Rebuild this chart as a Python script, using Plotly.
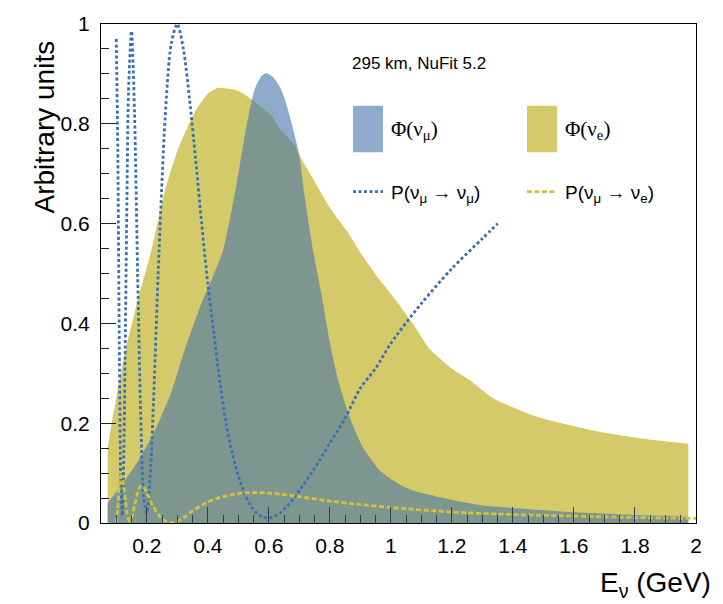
import plotly.graph_objects as go

# ---------------- data ----------------
# Phi(nu_mu) flux (blue fill)
e_phi_mu = [0.072, 0.10, 0.128, 0.172, 0.226, 0.281, 0.325, 0.379, 0.412, 0.45, 0.494,
            0.527, 0.554, 0.575, 0.592, 0.615, 0.636, 0.652, 0.674, 0.70, 0.718, 0.745,
            0.773, 0.80, 0.826, 0.866, 0.909, 0.964, 1.02, 1.072, 1.18, 1.29, 1.40,
            1.587, 1.805, 1.975]
phi_mu = [0.04, 0.062, 0.085, 0.125, 0.184, 0.263, 0.348, 0.44, 0.487, 0.546, 0.678,
          0.796, 0.87, 0.895, 0.902, 0.893, 0.875, 0.85, 0.803, 0.737, 0.652, 0.546,
          0.456, 0.362, 0.289, 0.21, 0.151, 0.105, 0.08, 0.065, 0.049, 0.036, 0.03,
          0.022, 0.016, 0.0125]

# Phi(nu_e) flux (yellow fill)
e_phi_e = [0.072, 0.085, 0.10, 0.13, 0.172, 0.215, 0.259, 0.303, 0.357, 0.40, 0.434,
           0.47, 0.50, 0.543, 0.609, 0.636, 0.685, 0.70, 0.745, 0.80, 0.855, 0.91,
           0.964, 1.007, 1.072, 1.128, 1.20, 1.259, 1.335, 1.478, 1.674, 1.827, 1.975]
phi_e = [0.15, 0.2, 0.25, 0.345, 0.45, 0.546, 0.665, 0.75, 0.823, 0.86, 0.872,
         0.87, 0.866, 0.849, 0.816, 0.79, 0.757, 0.737, 0.69, 0.632, 0.586, 0.533,
         0.487, 0.454, 0.40, 0.348, 0.309, 0.286, 0.25, 0.213, 0.184, 0.169, 0.159]

# P(nu_mu -> nu_mu) (blue dotted)
e_pmm = [0.10, 0.105, 0.11, 0.115, 0.12, 0.125, 0.13, 0.135, 0.14, 0.15, 0.16, 0.17,
         0.18, 0.19, 0.20, 0.21, 0.22, 0.24, 0.26, 0.28, 0.30, 0.32, 0.34, 0.36, 0.38,
         0.40, 0.42, 0.44, 0.46, 0.48, 0.50, 0.52, 0.54, 0.56, 0.58, 0.60, 0.62, 0.64,
         0.66, 0.68, 0.70, 0.75, 0.80, 0.85, 0.90, 0.95, 1.0, 1.1, 1.2, 1.3, 1.35]
p_mumu = [0.97, 0.75, 0.36, 0.08, 0.015, 0.15, 0.39, 0.65, 0.86, 0.986, 0.82, 0.50,
          0.22, 0.05, 0.02, 0.08, 0.21, 0.54, 0.81, 0.96, 1.0, 0.95, 0.85, 0.73, 0.60,
          0.48, 0.38, 0.28, 0.20, 0.14, 0.095, 0.06, 0.035, 0.02, 0.012, 0.01, 0.014, 0.022,
          0.034, 0.048, 0.065, 0.11, 0.16, 0.21, 0.27, 0.31, 0.36, 0.44, 0.51, 0.57, 0.60]

# P(nu_mu -> nu_e) (yellow dashed)
e_pme = [0.10, 0.105, 0.11, 0.115, 0.12, 0.125, 0.13, 0.135, 0.14, 0.145, 0.15, 0.16,
         0.17, 0.18, 0.19, 0.20, 0.22, 0.24, 0.26, 0.28, 0.30, 0.32, 0.35, 0.40, 0.45,
         0.50, 0.55, 0.60, 0.65, 0.70, 0.80, 0.90, 1.0, 1.2, 1.4, 1.6, 1.8, 2.0]
p_mue = [0.0, 0.03, 0.075, 0.095, 0.09, 0.07, 0.045, 0.02, 0.007, 0.004, 0.01, 0.035,
         0.06, 0.074, 0.072, 0.06, 0.035, 0.015, 0.004, 0.0, 0.003, 0.01, 0.024, 0.042, 0.053,
         0.059, 0.061, 0.060, 0.057, 0.053, 0.044, 0.037, 0.031, 0.022, 0.017, 0.014, 0.011, 0.009]

x_ticks = [0.2, 0.4, 0.6, 0.8, 1.0, 1.2, 1.4, 1.6, 1.8, 2.0]
y_ticks = [0, 0.2, 0.4, 0.6, 0.8, 1.0]

# ---------------- style ----------------
YELLOW = "#d5ca6a"
BLUE_FILL = "rgba(67,115,168,0.6)"
BLUE_LINE = "#3a6fb0"
YELLOW_LINE = "#d6c23a"
BLUE_DASH = "3px,2.5px"
YELLOW_DASH = "5px,2.5px"
W, H = 723, 604
L, R, T, B = 101, 27, 17, 81
pw, ph = W - L - R, H - T - B


def px(xp):
    return (xp - L) / pw


def py(yp):
    return (H - B - yp) / ph


fig = go.Figure()
fig.add_trace(go.Scatter(x=e_phi_e, y=phi_e, mode="lines", fill="tozeroy",
                         fillcolor=YELLOW,
                         line=dict(width=0, color=YELLOW, shape="spline", smoothing=0.5),
                         showlegend=False, hoverinfo="skip"))
fig.add_trace(go.Scatter(x=e_phi_mu, y=phi_mu, mode="lines", fill="tozeroy",
                         fillcolor=BLUE_FILL,
                         line=dict(width=0, color=BLUE_FILL, shape="spline", smoothing=0.5),
                         showlegend=False, hoverinfo="skip"))
fig.add_trace(go.Scatter(x=e_pmm, y=p_mumu, mode="lines",
                         line=dict(color=BLUE_LINE, width=2.8, dash=BLUE_DASH,
                                   shape="spline", smoothing=0.8),
                         showlegend=False))
fig.add_trace(go.Scatter(x=e_pme, y=p_mue, mode="lines",
                         line=dict(color=YELLOW_LINE, width=2.8, dash=YELLOW_DASH,
                                   shape="spline", smoothing=0.8),
                         showlegend=False))

tickfont = dict(family="Liberation Sans, Arial, sans-serif", size=21, color="black")
fig.update_xaxes(range=[0.05, 2.0], tickvals=x_ticks, ticks="inside", ticklen=16,
                 tickwidth=1, tickcolor="#2e3f52", showline=True, linecolor="black",
                 linewidth=1, mirror=True, showgrid=False, zeroline=False,
                 tickfont=tickfont, ticklabelstandoff=4,
                 minor=dict(dtick=0.05, tick0=0, ticks="inside", ticklen=8,
                            tickcolor="#2e3f52", showgrid=False))
fig.update_yaxes(range=[0, 1.0], tickvals=y_ticks, ticks="inside", ticklen=15,
                 tickwidth=1, tickcolor="#222", showline=True, linecolor="black",
                 linewidth=1, mirror=True, showgrid=False, zeroline=False,
                 tickfont=tickfont, ticklabelstandoff=6,
                 minor=dict(dtick=0.05, tick0=0, ticks="inside", ticklen=8,
                            tickcolor="#222", showgrid=False))

ann = []
ann.append(dict(text="Arbitrary units", x=px(45), y=py(122), xref="paper", yref="paper",
                textangle=-90, showarrow=False, xanchor="center", yanchor="middle",
                font=dict(family="Liberation Sans, Arial, sans-serif", size=28, color="black")))
ann.append(dict(text="E<sub>ν</sub> (GeV)", x=px(713), y=py(585), xref="paper", yref="paper",
                showarrow=False, xanchor="right", yanchor="middle",
                font=dict(family="Liberation Sans, Arial, sans-serif", size=28, color="black")))
ann.append(dict(text="295 km, NuFit 5.2", x=px(350), y=py(57), xref="paper", yref="paper",
                showarrow=False, xanchor="left", yanchor="middle",
                font=dict(family="Liberation Sans, Arial, sans-serif", size=17, color="black")))
serif = dict(family="Liberation Serif, Times New Roman, serif", size=21, color="black")
sans = dict(family="Liberation Sans, Arial, sans-serif", size=19, color="black")
ann.append(dict(text="Φ(ν<sub>μ</sub>)", x=px(389), y=py(124), xref="paper", yref="paper",
                showarrow=False, xanchor="left", yanchor="middle", font=serif))
ann.append(dict(text="Φ(ν<sub>e</sub>)", x=px(563), y=py(124), xref="paper", yref="paper",
                showarrow=False, xanchor="left", yanchor="middle", font=serif))
ann.append(dict(text="P(ν<sub>μ</sub> → ν<sub>μ</sub>)", x=px(389), y=py(189), xref="paper",
                yref="paper", showarrow=False, xanchor="left", yanchor="middle", font=sans))
ann.append(dict(text="P(ν<sub>μ</sub> → ν<sub>e</sub>)", x=px(563), y=py(189), xref="paper",
                yref="paper", showarrow=False, xanchor="left", yanchor="middle", font=sans))

shapes = [
    dict(type="rect", xref="paper", yref="paper", x0=px(353), x1=px(383), y0=py(147), y1=py(100),
         fillcolor=BLUE_FILL, line=dict(width=0)),
    dict(type="rect", xref="paper", yref="paper", x0=px(527), x1=px(557), y0=py(147), y1=py(100),
         fillcolor=YELLOW, line=dict(width=0)),
    dict(type="line", xref="paper", yref="paper", x0=px(353), x1=px(383), y0=py(187), y1=py(187),
         line=dict(color=BLUE_LINE, width=2.8, dash=BLUE_DASH)),
    dict(type="line", xref="paper", yref="paper", x0=px(527), x1=px(557), y0=py(187), y1=py(187),
         line=dict(color=YELLOW_LINE, width=2.8, dash=YELLOW_DASH)),
]

fig.update_layout(width=W, height=H, margin=dict(l=L, r=R, t=T, b=B),
                  paper_bgcolor="white", plot_bgcolor="white",
                  annotations=ann, shapes=shapes, showlegend=False)

fig.write_html("out.html", config={"displayModeBar": False},
               post_script="document.body.style.margin='0px';"
                           "document.body.style.overflow='hidden';")
